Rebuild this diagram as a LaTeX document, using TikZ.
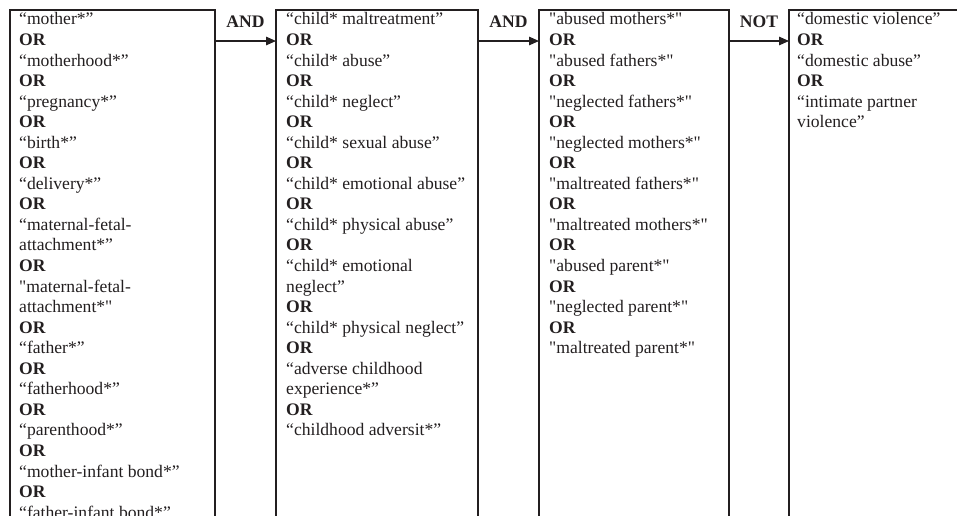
\documentclass[tikz,border=0pt]{standalone}
\usepackage{fontspec}
\setmainfont{Liberation Serif}
\newfontfamily\tfont{Liberation Serif}
\usetikzlibrary{arrows.meta}
\definecolor{ink}{HTML}{231F20}
\newcommand\orw{\textbf{OR}}
\begin{document}
\begin{tikzpicture}[x=1pt,y=-1pt,
  box/.style={draw=ink, line width=1.3pt, inner sep=0pt, outer sep=0pt, anchor=north west, minimum height=540pt},
  txt/.style={anchor=north west, inner sep=0pt, align=left, text=ink, font=\tfont\fontsize{17.6}{20.55}\selectfont},
  conn/.style={draw=ink, line width=1.4pt, -{Triangle[length=10pt,width=8.5pt]}},
  lbl/.style={text=ink, inner sep=0pt, anchor=south, yshift=13pt, font=\tfont\fontsize{17.6}{20.6}\selectfont\bfseries}]
\useasboundingbox (0,0) rectangle (957,515);
\clip (0,0) rectangle (957,515);
\fill[white] (0,0) rectangle (957,515);

\node[box, minimum width=205pt] (b1) at (10,10) {};
\node[box, minimum width=202pt] (b2) at (276,10) {};
\node[box, minimum width=190pt] (b3) at (539,10) {};
\node[box, minimum width=200pt] (b4) at (789,10) {};

\node[txt] (t1) at (19,12.5) {“mother*”\\ \orw\\ “motherhood*”\\ \orw\\ “pregnancy*”\\ \orw\\ “birth*”\\ \orw\\ “delivery*”\\ \orw\\ “maternal-fetal-\\ attachment*”\\ \orw\\ "maternal-fetal-\\ attachment*"\\ \orw\\ “father*”\\ \orw\\ “fatherhood*”\\ \orw\\ “parenthood*”\\ \orw\\ “mother-infant bond*”\\ \orw\\ “father-infant bond*”};

\node[txt] (t2) at (286,12.5) {“child* maltreatment”\\ \orw\\ “child* abuse”\\ \orw\\ “child* neglect”\\ \orw\\ “child* sexual abuse”\\ \orw\\ “child* emotional abuse”\\ \orw\\ “child* physical abuse”\\ \orw\\ “child* emotional\\ neglect”\\ \orw\\ “child* physical neglect”\\ \orw\\ “adverse childhood\\ experience*”\\ \orw\\ “childhood adversit*”};

\node[txt] (t3) at (549,12.5) {"abused mothers*"\\ \orw\\ "abused fathers*"\\ \orw\\ "neglected fathers*"\\ \orw\\ "neglected mothers*"\\ \orw\\ "maltreated fathers*"\\ \orw\\ "maltreated mothers*"\\ \orw\\ "abused parent*"\\ \orw\\ "neglected parent*"\\ \orw\\ "maltreated parent*"};

\node[txt] (t4) at (797,12.5) {“domestic violence”\\ \orw\\ “domestic abuse”\\ \orw\\ “intimate partner\\ violence”};

\draw[conn] ([yshift=-31pt]b1.north east) -- node[lbl] (l1) {AND} ([yshift=-31pt]b2.north west);
\draw[conn] ([yshift=-31pt]b2.north east) -- node[lbl] (l2) {AND} ([yshift=-31pt]b3.north west);
\draw[conn] ([yshift=-31pt]b3.north east) -- node[lbl] (l3) {NOT} ([yshift=-31pt]b4.north west);
\end{tikzpicture}
\end{document}
